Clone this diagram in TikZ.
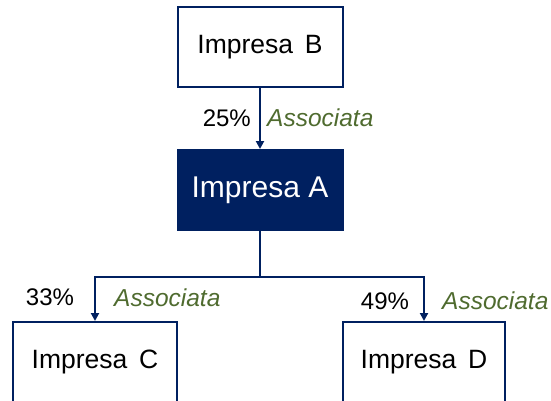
\documentclass[tikz,border=0pt]{standalone}
\usepackage{fontspec}
\setmainfont{Liberation Sans}
\usetikzlibrary{arrows.meta}
\definecolor{navy}{HTML}{002060}
\definecolor{assocgreen}{HTML}{4F6B2F}
\tikzset{
  company/.style={draw=navy, line width=2pt, minimum width=165pt, minimum height=80pt, inner sep=0pt, font=\fontsize{26.5}{30}\selectfont},
  link/.style={draw=navy, line width=2pt},
  linkarrow/.style={link, -{Triangle[width=8pt,length=8pt]}},
  pct/.style={font=\fontsize{24}{28}\selectfont, inner sep=0pt},
  assoc/.style={font=\fontsize{24.5}{28}\selectfont\itshape, text=assocgreen, inner sep=0pt}
}
\begin{document}
\begin{tikzpicture}[x=1pt,y=-1pt]
\useasboundingbox (0,0) rectangle (551,400);
\clip (0,0) rectangle (551,400);
\node[company] (B) at (260,47) {Impresa\, B};
\node[company, fill=navy, text=white, font=\fontsize{30}{34}\selectfont] (A) at (260,190) {Impresa A};
\node[company, minimum width=164pt] (C) at (95,362) {Impresa\, C};
\node[company, minimum width=162pt] (D) at (424,362) {Impresa\, D};
\coordinate (J) at (260,277);
\draw[linkarrow] (B) -- (A);
\draw[link] (A) -- (J);
\draw[linkarrow] (J) -| (C);
\draw[linkarrow] (J) -| (D);
\node[pct, anchor=east] (p1) at (251,118) {25\%};
\node[assoc, anchor=west] (a1) at (267,118) {Associata};
\node[pct] (p2) at (50,297) {33\%};
\node[assoc, anchor=west] (a2) at (114,298) {Associata};
\node[pct] (p3) at (385,301) {49\%};
\node[assoc, anchor=west] (a3) at (442,301) {Associata};
\end{tikzpicture}
\end{document}
